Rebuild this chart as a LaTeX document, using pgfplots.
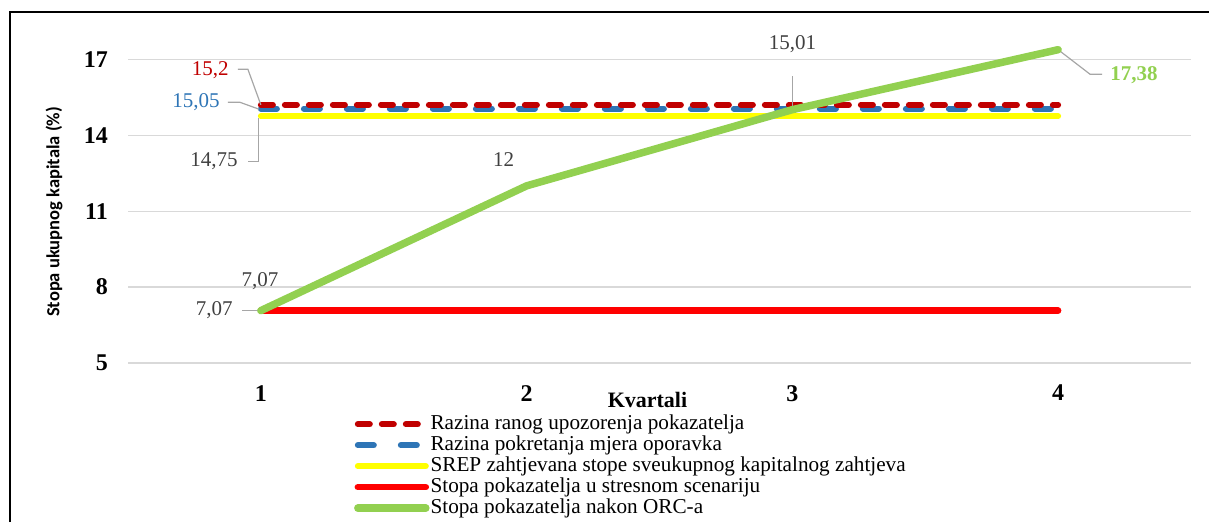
\documentclass[border=0pt]{standalone}
\usepackage{fontspec}
\setmainfont{Liberation Serif}
\newfontfamily\carlito{Carlito}
\usepackage{pgfplots}
\pgfplotsset{compat=1.18}

\definecolor{darkred}{HTML}{C00000}
\definecolor{midblue}{HTML}{2E75B6}
\definecolor{srepyellow}{HTML}{FFFF00}
\definecolor{stressred}{HTML}{FF0000}
\definecolor{orcgreen}{HTML}{92D050}
\definecolor{gridgrey}{HTML}{D9D9D9}
\definecolor{labgrey}{HTML}{404040}
\definecolor{leadgrey}{HTML}{A6A6A6}

\newcommand{\lab}{\fontsize{21}{25}\selectfont}

\begin{document}
\begin{tikzpicture}[x=1pt,y=1pt]
\path[use as bounding box] (0,0) rectangle (1209,522);
\draw[line width=1.8pt] (10,0) -- (10,510) -- (1209,510);
\begin{axis}[
    at={(128pt,159pt)}, anchor=south west,
    scale only axis, width=1063pt, height=329pt,
    xmin=0.5, xmax=4.5, ymin=5, ymax=18,
    xtick={1,2,3,4}, ytick={5,8,11,14,17},
    axis line style={draw=none},
    major tick length=0pt,
    ymajorgrids, grid style={color=gridgrey, line width=1.2pt},
    clip=false,
    /pgf/number format/assume math mode=true,
    ticklabel style={font=\bfseries\fontsize{24}{28}\selectfont, inner sep=0pt},
    xticklabel style={anchor=north, yshift=-22pt},
    yticklabel style={anchor=east, xshift=-20pt},
    xlabel={Kvartali},
    xlabel style={font=\bfseries\fontsize{22}{26}\selectfont, at={(axis description cs:0.4887,-0.1135)}, anchor=center, inner sep=0pt},
    ylabel={Stopa ukupnog kapitala (\%)},
    ylabel style={font=\carlito\bfseries\fontsize{18.5}{21}\selectfont, at={(axis description cs:-0.0696,0.459)}, anchor=center, inner sep=0pt},
    legend style={at={(axis description cs:0.2125,-0.1535)}, anchor=north west,
        draw=none, fill=none, inner sep=0pt, row sep=0pt, column sep=0pt,
        font=\fontsize{21.2}{22}\selectfont,
        nodes={inner sep=1pt, text height=14.5pt, text depth=4.5pt}},
    legend cell align=left,
    legend image code/.code={\draw[#1] (0pt,0pt) -- (68pt,0pt);},
    every axis plot/.append style={line cap=round, line join=round},
]
% drawing order: blue under red dashes, green on top
\addplot[forget plot, midblue, line width=6pt, dash pattern=on 16pt off 27pt] coordinates {(1,15.05) (2,15.05) (3,15.05) (4,15.05)};
\addplot[forget plot, darkred, line width=6pt, dash pattern=on 12pt off 12pt] coordinates {(1,15.2) (2,15.2) (3,15.2) (4,15.2)};
\addplot[forget plot, srepyellow, line width=6pt] coordinates {(1,14.75) (2,14.75) (3,14.75) (4,14.75)};
\addplot[forget plot, stressred, line width=6.5pt] coordinates {(1,7.07) (2,7.07) (3,7.07) (4,7.07)};

% leader lines
\draw[leadgrey, line width=1.2pt] (axis cs:1,15.2) -- ++(-13pt,35.6pt) -- ++(-10pt,0pt);
\draw[leadgrey, line width=1.2pt] (axis cs:1,15.05) ++(-2pt,-0.5pt) -- ++(-19pt,6.9pt) -- ++(-12pt,0pt);
\draw[leadgrey, line width=1.2pt] (axis cs:1,14.75) ++(-2pt,-2pt) -- ++(0pt,-43pt) -- ++(-11pt,0pt);
\draw[leadgrey, line width=1.2pt] (axis cs:1,7.07) ++(-3pt,0pt) -- ++(-16pt,0pt);
\draw[leadgrey, line width=1.2pt] (axis cs:3,15.01) ++(0pt,1pt) -- ++(0pt,32.4pt);
\draw[leadgrey, line width=1.2pt] (axis cs:4,17.38) -- ++(32pt,-24.6pt) -- ++(12pt,0pt);

\addplot[forget plot, orcgreen, line width=7.5pt] coordinates {(1,7.07) (2,12) (3,15.01) (4,17.38)};

% data labels
\node[anchor=east, inner sep=0pt, text=darkred, font=\lab, xshift=-32pt, yshift=34.6pt] at (axis cs:1,15.2) {15,2};
\node[anchor=east, inner sep=0pt, text=midblue, font=\lab, xshift=-41pt, yshift=6.4pt] at (axis cs:1,15.05) {15,05};
\node[anchor=east, inner sep=0pt, text=labgrey, font=\lab, xshift=-23pt, yshift=-45pt] at (axis cs:1,14.75) {14,75};
\node[anchor=center, inner sep=0pt, text=labgrey, font=\lab, xshift=-1pt, yshift=29.5pt] at (axis cs:1,7.07) {7,07};
\node[anchor=east, inner sep=0pt, text=labgrey, font=\lab, xshift=-28pt] at (axis cs:1,7.07) {7,07};
\node[anchor=center, inner sep=0pt, text=labgrey, font=\lab, xshift=-23pt, yshift=26.7pt] at (axis cs:2,12) {12};
\node[anchor=center, inner sep=0pt, text=labgrey, font=\lab, yshift=65.4pt] at (axis cs:3,15.01) {15,01};
\node[anchor=west, inner sep=0pt, text=orcgreen, font=\lab\bfseries, xshift=52pt, yshift=-25.6pt] at (axis cs:4,17.38) {17,38};

\addlegendimage{darkred, line width=6pt, dash pattern=on 12pt off 12pt, line cap=round}
\addlegendentry{Razina ranog upozorenja pokazatelja}
\addlegendimage{midblue, line width=6pt, dash pattern=on 16pt off 27pt, line cap=round}
\addlegendentry{Razina pokretanja mjera oporavka}
\addlegendimage{srepyellow, line width=6pt, line cap=round}
\addlegendentry{SREP zahtjevana stope sveukupnog kapitalnog zahtjeva}
\addlegendimage{stressred, line width=6.5pt, line cap=round}
\addlegendentry{Stopa pokazatelja u stresnom scenariju}
\addlegendimage{orcgreen, line width=7.5pt, line cap=round}
\addlegendentry{Stopa pokazatelja nakon ORC-a}
\end{axis}
\end{tikzpicture}
\end{document}
